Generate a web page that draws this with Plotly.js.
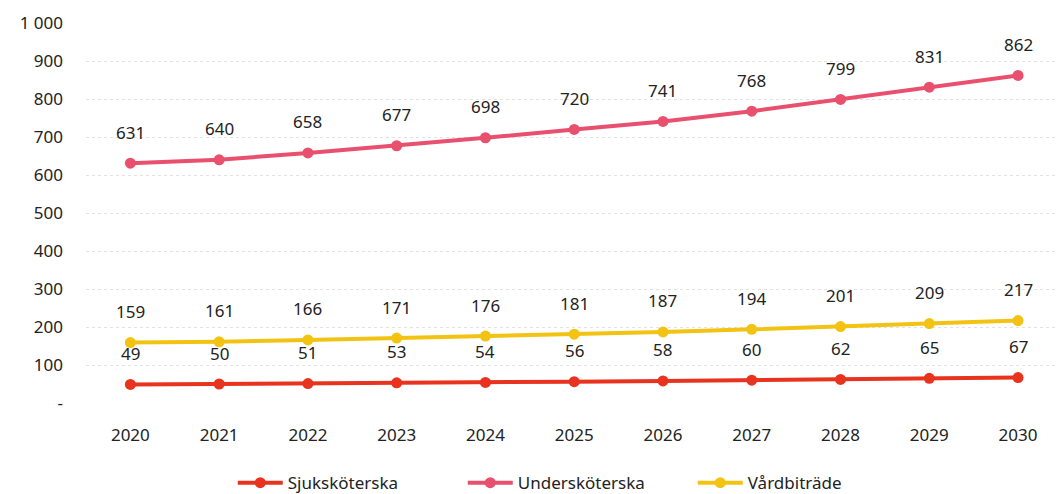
<!DOCTYPE html>
<html>
<head>
<meta charset="utf-8">
<script src="https://cdn.plot.ly/plotly-3.0.1.min.js"></script>
<style>html,body{margin:0;padding:0;background:#fff;}#chart{width:1058px;height:494px;}</style>
</head>
<body>
<div id="chart"></div>
<script>
const years = ["2020","2021","2022","2023","2024","2025","2026","2027","2028","2029","2030"];
const sjukskoterska = [49,50,51,53,54,56,58,60,62,65,67];
const underskoterska = [631,640,658,677,698,720,741,768,799,831,862];
const vardbitrade = [159,161,166,171,176,181,187,194,201,209,217];
const seriesNames = ["Sjuksköterska","Undersköterska","Vårdbiträde"];
const seriesColors = ["#e8331f","#e8506d","#f3c313"];
const yTickVals = [0,100,200,300,400,500,600,700,800,900,1000];
const yTickText = ["-","100","200","300","400","500","600","700","800","900","1 000"];

const allSeries = [sjukskoterska, underskoterska, vardbitrade];
const traces = allSeries.map((vals, i) => ({
  type: "scatter",
  mode: "lines+markers",
  x: years,
  y: vals,
  name: seriesNames[i],
  line: {color: seriesColors[i], width: 4},
  marker: {color: seriesColors[i], size: 11}
}));

const annotations = [];
allSeries.forEach((vals, i) => {
  vals.forEach((v, j) => {
    annotations.push({
      x: j, y: v, xref: "x", yref: "y", text: String(v), showarrow: false,
      yshift: 31, font: {size: 17, color: "#222"}
    });
  });
});

const layout = {
  width: 1058, height: 494,
  margin: {l: 86, r: 0, t: 23, b: 91},
  paper_bgcolor: "#fff", plot_bgcolor: "#fff",
  font: {family: "Noto Sans, DejaVu Sans, sans-serif", size: 16, color: "#222"},
  showlegend: true,
  legend: {orientation: "h", xref: "container", x: 0.22, xanchor: "left",
           yref: "container", y: 0.022, yanchor: "middle",
           entrywidth: 170, entrywidthmode: "pixels",
           font: {size: 17, color: "#222"}, itemwidth: 45},
  xaxis: {type: "category", range: [-0.5, 10.45], showgrid: false, zeroline: false, automargin: false,
          showline: false, ticks: "", ticklabelstandoff: 20, tickfont: {size: 17, color: "#222"}},
  yaxis: {range: [0, 1000], tickvals: yTickVals, ticktext: yTickText, automargin: false,
          showgrid: true, gridcolor: "#e2e2e2", griddash: "dot", gridwidth: 1,
          zeroline: false, showline: false, ticks: "", ticklabelstandoff: 22,
          tickfont: {size: 17, color: "#222"}},
  annotations: annotations
};

Plotly.newPlot("chart", traces, layout, {displayModeBar: false, staticPlot: true});
</script>
</body>
</html>
